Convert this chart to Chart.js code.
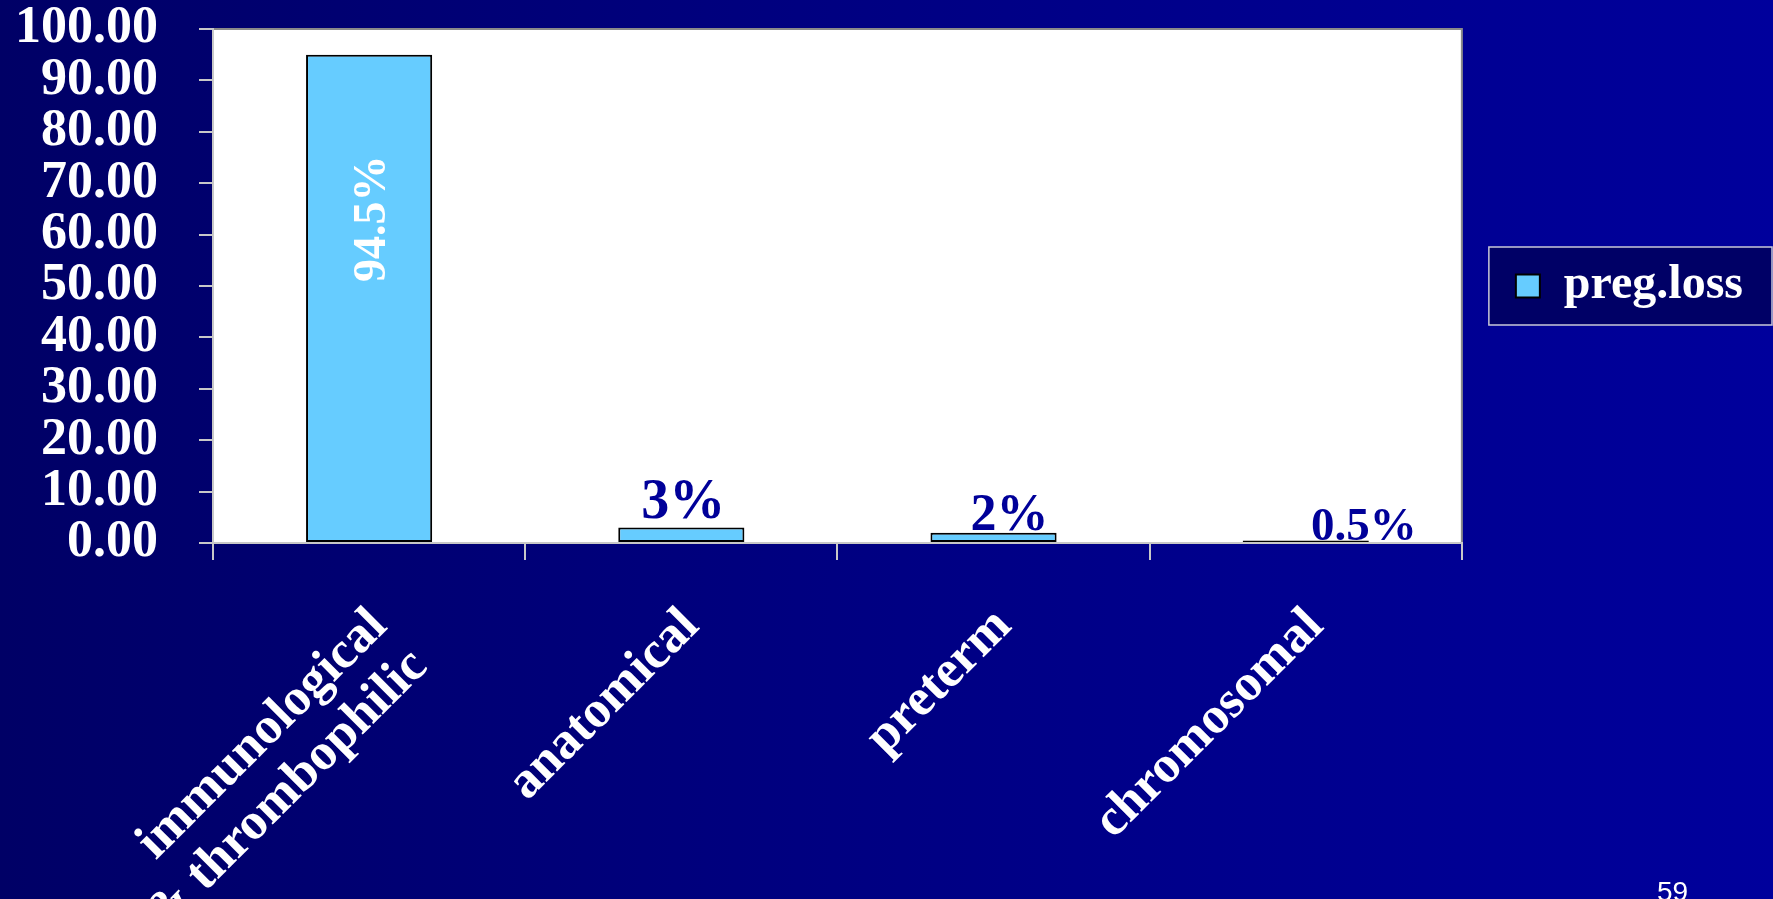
<!DOCTYPE html>
<html>
<head>
<meta charset="utf-8">
<script src="https://cdn.jsdelivr.net/npm/chart.js@4.4.1/dist/chart.umd.min.js"></script>
<style>
  html, body { margin: 0; padding: 0; }
  body { width: 1773px; height: 899px; overflow: hidden;
         background: linear-gradient(to right, #000066 0%, #000080 45%, #00009c 100%); }
  #wrap { position: relative; width: 1773px; height: 899px; }
  canvas { display: block; }
</style>
</head>
<body>
<div id="wrap"><canvas id="c" width="1773" height="899"></canvas></div>
<script>
// ---- data ----
const categories = [["immunological", "& thrombophilic"], "anatomical", "preterm", "chromosomal"];
const seriesName = "preg.loss";
const values = [95, 3, 2, 0.5];
const valueLabels = ["94.5%", "3%", "2%", "0.5%"];
const yTicks = [0, 10, 20, 30, 40, 50, 60, 70, 80, 90, 100];
const pageNumber = "59";

const SERIF = "'Liberation Serif', 'Times New Roman', serif";

const plotBg = {
  id: 'plotBg',
  beforeDraw(chart) {
    const {ctx, chartArea: a} = chart;
    ctx.save();
    ctx.fillStyle = '#ffffff';
    ctx.fillRect(a.left, a.top, a.right - a.left, a.bottom - a.top);
    ctx.strokeStyle = '#8a8a8a';
    ctx.lineWidth = 2;
    ctx.beginPath();
    ctx.moveTo(a.left, a.top);
    ctx.lineTo(a.right, a.top);
    ctx.lineTo(a.right, a.bottom);
    ctx.stroke();
    // legend frame
    const lg = chart.legend;
    if (lg && lg.legendHitBoxes && lg.legendHitBoxes.length) {
      const hb = lg.legendHitBoxes[0];
      const cy = hb.top + hb.height / 2;
      const x0 = hb.left - 27, x1 = hb.left + hb.width + 29;
      ctx.fillStyle = '#000066';
      ctx.fillRect(x0, cy - 39, x1 - x0, 78);
      ctx.strokeStyle = '#c8c8d8';
      ctx.lineWidth = 1.5;
      ctx.strokeRect(x0, cy - 39, x1 - x0, 78);
    }
    ctx.restore();
  }
};

const barLabels = {
  id: 'barLabels',
  afterDatasetsDraw(chart) {
    const {ctx} = chart;
    const meta = chart.getDatasetMeta(0);
    const styles = [
      {rot: true, dx: 4, dy: 164, size: 46, color: '#ffffff'},
      {dx: 2, dy: -10, size: 56, color: '#000099'},
      {dx: 16, dy: -3, size: 52, color: '#000099'},
      {dx: 58, dy: 0, size: 47, color: '#000099'}
    ];
    meta.data.forEach((bar, i) => {
      const s = styles[i];
      ctx.save();
      ctx.font = 'bold ' + s.size + 'px ' + SERIF;
      ctx.fillStyle = s.color;
      if (s.rot) {
        ctx.translate(bar.x + s.dx, bar.y + s.dy);
        ctx.rotate(-Math.PI / 2);
        ctx.textAlign = 'center';
        ctx.textBaseline = 'middle';
        ctx.fillText(valueLabels[i], 0, 0);
      } else {
        ctx.textAlign = 'center';
        ctx.textBaseline = 'alphabetic';
        ctx.fillText(valueLabels[i], bar.x + s.dx, bar.y + s.dy);
      }
      ctx.restore();
    });
  },
  afterDraw(chart) {
    const {ctx} = chart;
    ctx.save();
    ctx.font = '28px "Liberation Sans", Arial, sans-serif';
    ctx.fillStyle = '#ffffff';
    ctx.textAlign = 'left';
    ctx.textBaseline = 'alphabetic';
    ctx.fillText(pageNumber, 1657, 901);
    ctx.restore();
  }
};

new Chart(document.getElementById('c'), {
  type: 'bar',
  data: {
    labels: categories,
    datasets: [{
      label: seriesName,
      data: values,
      backgroundColor: '#66ccff',
      borderColor: '#000000',
      borderWidth: 2,
      borderSkipped: false,
      categoryPercentage: 1.0,
      barPercentage: 0.404
    }]
  },
  options: {
    responsive: false,
    animation: false,
    layout: { padding: { top: 29, right: 20, bottom: 0, left: 0 } },
    plugins: {
      legend: {
        position: 'right',
        align: 'center',
        fullSize: false,
        labels: {
          color: '#ffffff',
          font: { family: SERIF, size: 48, weight: 'bold' },
          boxWidth: 24,
          boxHeight: 23,
          padding: 54
        }
      },
      tooltip: { enabled: false }
    },
    scales: {
      x: {
        afterFit(scale) { scale.height = 356; },
        grid: { display: true, drawOnChartArea: false, drawTicks: true, tickLength: 17, color: '#c8c8c8', lineWidth: 2, offset: true },
        border: { display: true, color: '#c8c8c8', width: 2 },
        ticks: {
          color: '#ffffff',
          font: { family: SERIF, size: 52, weight: 'bold', lineHeight: 1.1 },
          minRotation: 45,
          maxRotation: 45,
          autoSkip: false,
          padding: 38,
          labelOffset: 10
        }
      },
      y: {
        min: 0,
        max: 100,
        afterFit(scale) { scale.width = 213; scale.paddingTop = 0; scale.paddingBottom = 0; },
        afterBuildTicks(scale) { scale.ticks = yTicks.map(v => ({ value: v })); },
        grid: { display: true, drawOnChartArea: false, drawTicks: true, tickLength: 14, color: '#c8c8c8', lineWidth: 2 },
        border: { display: true, color: '#c8c8c8', width: 2 },
        ticks: {
          color: '#ffffff',
          font: { family: SERIF, size: 52, weight: 'bold', lineHeight: 1.0 },
          padding: 41,
          autoSkip: false,
          callback: v => Number(v).toFixed(2)
        }
      }
    }
  },
  plugins: [plotBg, barLabels]
});
</script>
</body>
</html>
